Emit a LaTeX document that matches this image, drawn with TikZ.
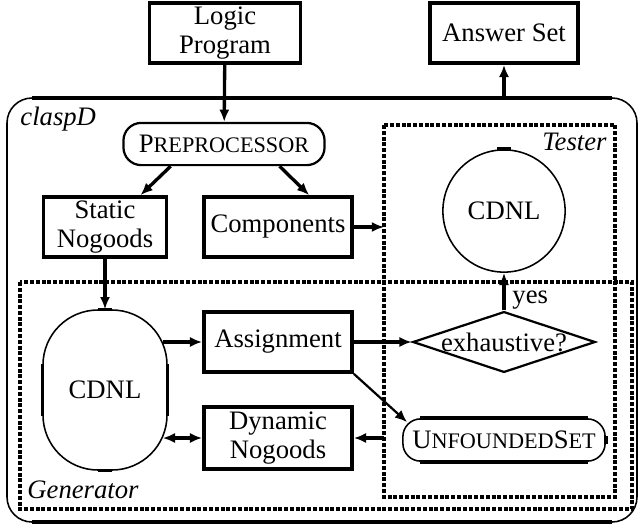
\documentclass[tikz,border=0pt]{standalone}
\usepackage{fontspec}
\setmainfont{Liberation Serif}
\usetikzlibrary{calc}
\usetikzlibrary{arrows.meta,shapes.geometric}

\begin{document}
\begin{tikzpicture}[x=0.45pt,y=-0.45pt,
  font=\fontsize{12}{13}\selectfont,
  >={Latex[length=5.5pt,width=4.6pt]},
  box/.style={draw, line width=1.7pt, align=center, minimum width=66.6pt, minimum height=27pt, inner sep=1pt},
  roundbox/.style={draw, line width=0.7pt, rounded corners=8pt, minimum width=90.5pt, minimum height=19pt, inner sep=1pt},
  frame/.style={line width=1.5pt, dash pattern=on 1.8pt off 0.8pt},
  arr/.style={line width=1.5pt, ->}]

  % Corner radius of the claspD box
  \newcommand{\Rout}{11.25pt}
  \newcommand{\smallcap}[1]{{\fontsize{10}{10}\selectfont #1}}

  \useasboundingbox (0,0) rectangle (640,529);

  % Frames
  \draw[line width=0.7pt, rounded corners=\Rout] (7,98) rectangle (637,522); % claspD
  \draw[line width=1.8pt] (32,98) -- (612,98) (32,522) -- (612,522);
  \draw[line width=1.2pt] (7,123) -- (7,497) (637,123) -- (637,497);
  \draw[frame] (384,125) rectangle (615,497); % Tester
  \draw[frame] (20,282) rectangle (632,509);  % Generator

  % Frame labels
  \node[anchor=base west, inner sep=0pt] (claspd) at (20,125) {\textit{claspD}};
  \node[anchor=base east, inner sep=0pt] (tester) at (607,150) {\textit{Tester}};
  \node[anchor=base west, inner sep=0pt] (generator) at (27,498) {\textit{Generator}};

  % Points on the frames
  \coordinate (top) at (504,98);
  \coordinate (tin) at (384,227);
  \coordinate (tout) at (384,438);

  % Boxes
  \node[box, minimum width=68pt] (prog) at (225,33) {Logic\\Program};
  \node[box] (ans) at (504,33) {Answer Set};
  \node[roundbox, line width=1pt] (pre) at (224,144) {P\smallcap{REPROCESSOR}};
  \node[box, minimum width=55.4pt] (static) at (105,227) {Static\\Nogoods};
  \node[box] (comp) at (278,227) {Components};
  \node[box] (assign) at (278,342) {Assignment};
  \node[box, minimum height=28pt] (dyn) at (278,438) {Dynamic\\Nogoods};
  \node[roundbox, minimum width=91pt] (ufs) at (504,440) {U\smallcap{NFOUNDED}S\smallcap{ET}};
  \node[draw, line width=0.7pt, rounded corners=24.75pt, minimum width=55.8pt, minimum height=72pt] (gcdnl) at (105,390) {CDNL};
  \node[draw, circle, line width=0.7pt, minimum size=55pt] (tcdnl) at (504,211) {CDNL};
  \node[draw, diamond, aspect=3, inner sep=0pt, line width=1pt] (exh) at (504,342) {exhaustive?};

  % Thick straight parts of the round shapes
  \draw[line width=1.7pt] ([xshift=8pt]ufs.north west) -- ([xshift=-8pt]ufs.north east)
    ([xshift=8pt]ufs.south west) -- ([xshift=-8pt]ufs.south east)
    ([yshift=-8pt]ufs.north east) -- ([yshift=8pt]ufs.south east);
  \draw[line width=1.5pt] ([yshift=-24.75pt]gcdnl.north west) -- ([yshift=24.75pt]gcdnl.south west)
    ([yshift=-24.75pt]gcdnl.north east) -- ([yshift=24.75pt]gcdnl.south east)
    ([xshift=-3pt]gcdnl.north) -- ([xshift=3pt]gcdnl.north)
    ([xshift=-3pt]gcdnl.south) -- ([xshift=3pt]gcdnl.south);
  \draw[line width=1.7pt] ([xshift=-3pt]tcdnl.north) -- ([xshift=3pt]tcdnl.north);

  % Arrows
  \draw[arr] (prog) -- (pre);
  \draw[arr] ([xshift=-24pt]pre.south) -- ([xshift=16pt]static.north);
  \draw[arr] ([xshift=25pt]pre.south) -- ([xshift=14pt]comp.north);
  \draw[arr] (comp) -- (tin);
  \draw[arr] (static) -- (gcdnl);
  \draw[arr] ($(gcdnl.east |- assign.west)+(-5,0)$) -- (assign);
  \draw[arr, <->] ($(gcdnl.east |- dyn.west)+(-5,0)$) -- (dyn);
  \draw[arr] (assign) -- (exh);
  \draw[arr] (exh) -- (tcdnl);
  \node[anchor=base west, inner sep=0pt] (yes) at (512,303) {yes};
  \draw[arr, line width=1pt] (assign.south east) -- ($(ufs.north west)+(5,4)$);
  \draw[arr] (tout) -- (dyn);
  \draw[arr] (top) -- (ans);
\end{tikzpicture}
\end{document}
